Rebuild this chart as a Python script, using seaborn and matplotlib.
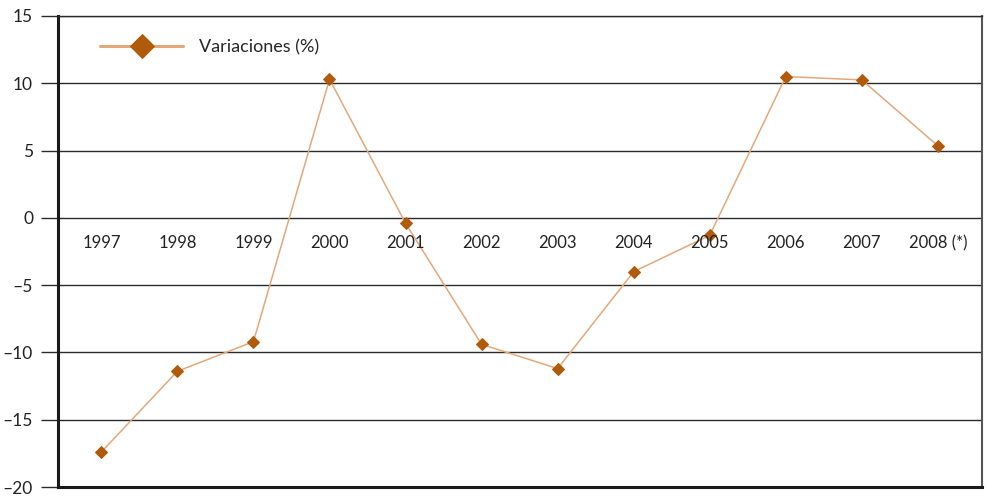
import matplotlib
matplotlib.use("Agg")
import matplotlib.pyplot as plt
import seaborn as sns
import pandas as pd

years = ["1997", "1998", "1999", "2000", "2001", "2002",
         "2003", "2004", "2005", "2006", "2007", "2008 (*)"]
variaciones = [-17.4, -11.4, -9.2, 10.3, -0.4, -9.4,
               -11.2, -4.0, -1.3, 10.5, 10.25, 5.35]
y_ticks = [15, 10, 5, 0, -5, -10, -15, -20]

sns.set_theme(style="white")
plt.rcParams["font.family"] = ["Lato", "DejaVu Sans"]

df = pd.DataFrame({"pos": range(len(years)), "year": years, "value": variaciones})

fig = plt.figure(figsize=(9.88, 4.97), dpi=100)
ax = fig.add_axes([58 / 988, 10 / 497, 924 / 988, 471 / 497])

line_color = "#E3A87A"
marker_color = "#B05A0C"

# horizontal grid lines at each major tick
for yv in y_ticks:
    ax.axhline(yv, color="#2b2b2b", lw=1.0, zorder=1)

sns.lineplot(data=df, x="pos", y="value", ax=ax, color=line_color, lw=1.1,
             marker="D", markersize=6, markerfacecolor=marker_color,
             markeredgecolor=marker_color, label="Variaciones (%)", zorder=3)

# year labels sit just below the zero line
for i, lab in enumerate(years):
    ax.text(i, -1.9, lab, ha="center", va="center", fontsize=12, color="#222222")

ax.set_xlim(-0.57, 11.58)
ax.set_ylim(-20, 15)
ax.set_xticks([])
ax.set_yticks(y_ticks)
ax.set_yticklabels([str(t).replace("-", "\u2013") for t in y_ticks], fontsize=12.5,
                   color="#222222")
ax.tick_params(axis="y", which="both", left=True, length=12, width=1.0,
               color="#2b2b2b", pad=6)
ax.set_xlabel("")
ax.set_ylabel("")

for side in ["left", "bottom"]:
    ax.spines[side].set_color("#1a1a1a")
    ax.spines[side].set_linewidth(2.2)
ax.spines["right"].set_color("#555555")
ax.spines["right"].set_linewidth(1.5)
ax.spines["top"].set_color("#2b2b2b")
ax.spines["top"].set_linewidth(1.0)

leg = ax.legend(loc="upper left", bbox_to_anchor=(0.028, 0.985), frameon=False,
                fontsize=13, handlelength=4.6, handletextpad=0.9, markerscale=2.0)
for h in leg.legend_handles:
    h.set_linewidth(2.2)

fig.savefig("out.png", dpi=100, facecolor="white")
